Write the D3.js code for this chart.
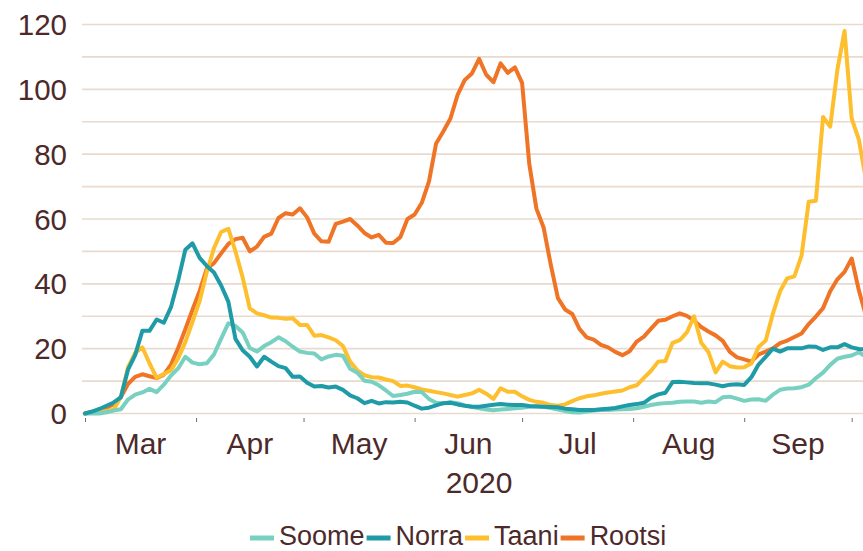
<!DOCTYPE html>
<html>
<head>
<meta charset="utf-8">
<script src="https://cdn.jsdelivr.net/npm/d3@7"></script>
<style>
  body { margin: 0; background: #fff; }
  svg { display: block; font-family: "Liberation Sans", Arial, sans-serif; }
</style>
</head>
<body>
<div id="chart"></div>
<script>
// values, one point every second day from 1 Mar 2020
const startDate = new Date(2020, 2, 1);
const dayStep = 2;

const soome = [0,0,0,0.4,0.9,1.3,4.3,5.8,6.5,7.6,
  6.6,8.9,11.7,13.9,17.5,15.7,15.2,15.5,18.2,23.1,
  27.8,27,25,20.2,19.1,20.8,22,23.5,22.3,20.6,
  19.1,18.7,18.5,16.7,17.6,18.1,17.8,13.8,12.6,10.1,
  9.8,8.7,7.1,5.4,5.7,6.1,6.7,6.6,4.5,3.3,
  3.1,3.5,3.2,2.5,2.1,1.6,1.2,1,1.2,1.4,
  1.6,1.8,2.1,2.1,2.1,1.7,1.2,0.8,0.4,0.3,
  0.6,0.9,1.1,1.1,1.2,1.3,1.4,1.6,2.1,2.6,
  3,3.2,3.3,3.6,3.7,3.7,3.3,3.7,3.5,5,
  5.2,4.6,3.9,4.3,4.4,3.9,5.8,7.3,7.7,7.8,
  8.1,8.9,10.9,12.6,15,16.9,17.5,17.9,18.9,17.5];

const norra = [0,0.6,1.4,2.4,3.4,5,13.5,18,25.5,25.5,
  29,28,32.8,41,50.5,52.5,48,45.5,43.5,39.5,
  34.5,23,19.5,17.5,14.5,17.5,16,14.6,14,11.3,
  11.4,9.5,8.3,8.5,8,8.3,7.3,5.6,4.7,3.2,
  3.9,3.1,3.5,3.4,3.6,3.4,2.4,1.5,1.8,2.5,
  3.2,3.3,2.8,2.4,2.1,2.1,2.4,2.7,2.9,2.7,
  2.6,2.6,2.3,2.2,2.1,2,1.9,1.5,1.3,1.1,
  1.1,1.1,1.3,1.5,1.7,2.2,2.6,2.9,3.3,4.9,
  5.9,6.4,9.7,9.8,9.6,9.4,9.3,9.3,8.9,8.4,
  8.9,9,8.8,11.2,15.1,17.5,20,19.1,20.1,20.1,
  20.1,20.7,20.6,19.6,20.4,20.4,21.4,20.4,19.9,19.7];

const taani = [0,0.3,0.6,0.8,1.2,5,14.2,18.7,20.4,15.5,
  11,12.2,13.3,17,22,28.3,34.7,43.7,51,56,
  57,50,42,32.4,30.9,30.3,29.6,29.5,29.2,29.4,
  27.3,27.3,24,24.2,23.5,22.6,20.8,16,13.3,11.8,
  11.2,11.1,10.5,10,8.5,8.6,8.1,7.4,7,6.6,
  6.2,5.7,5.2,5.7,6.2,7.3,6.1,4.5,7.8,6.7,
  6.7,5.3,4.2,3.6,3.3,2.6,2.4,2.8,3.8,4.7,
  5.3,5.6,6.1,6.5,6.8,7.1,8.1,8.7,11,13.2,
  16,16.2,21.8,22.6,25,30,21.8,19,12.7,16,
  14.6,14.2,14.3,15.4,20.5,22.5,30.8,37.7,41.7,42.3,
  48.7,65.3,65.6,91.5,88.5,106,118,91,84.5,72];

const rootsi = [0,0.5,1.1,1.7,2.9,5,9.1,11.3,12.1,11.5,
  10.9,12,15.1,20.2,26,32,37.8,44.7,46.4,49.4,
  52.3,53.8,54.2,50,51.5,54.5,55.5,60.3,61.8,61.4,
  63.3,60.5,55.5,53.1,53,58.5,59.2,60,58,55.7,
  54.3,55.1,52.7,52.6,54.4,60,61.4,65,71.5,83.3,
  87,91,98.3,102.9,104.9,109.4,104.5,102.2,108,105.1,
  106.8,102,77,63.2,57.4,45.9,35.6,32.1,30.7,26.1,
  23.5,22.8,21.2,20.4,19,18,19.2,22.2,23.7,26.2,
  28.6,28.9,30,30.9,30.1,28.7,26.7,25.3,24.1,22.4,
  19,17.3,16.7,16,18.2,19.1,20.1,21.7,22.5,23.6,
  24.7,27.6,29.9,32.5,37.7,41.4,43.7,47.8,38,30];

const seriesNames = ["Soome", "Norra", "Taani", "Rootsi"];
const seriesColors = ["#78d0c1", "#1f9ba7", "#fdbf2e", "#ef7425"];
const yTickValues = [0, 20, 40, 60, 80, 100, 120];
const yearLabel = "2020";

const dates = d3.range(soome.length).map(i => d3.timeDay.offset(startDate, i * dayStep));
const allSeries = [soome, norra, taani, rootsi];

const width = 863, height = 551;
const textColor = "#4d2a2a";
const gridColor = "#e9dacd";

const svg = d3.select("#chart").append("svg")
  .attr("width", width)
  .attr("height", height);

const x = d3.scaleTime()
  .domain([new Date(2020, 2, 1), new Date(2020, 9, 1)])
  .range([85, 851.7]);
const y = d3.scaleLinear()
  .domain([0, 120])
  .range([413.5, 24.5]);

// horizontal grid, every 10
svg.append("g")
  .selectAll("line")
  .data(d3.range(0, 121, 10))
  .join("line")
    .attr("x1", 82)
    .attr("x2", width)
    .attr("y1", d => y(d))
    .attr("y2", d => y(d))
    .attr("stroke", gridColor)
    .attr("stroke-width", 1.6);

// y labels
svg.append("g")
  .selectAll("text")
  .data(yTickValues)
  .join("text")
    .attr("x", 67)
    .attr("y", d => y(d) + 10.6)
    .attr("text-anchor", "end")
    .attr("font-size", 29.5)
    .attr("fill", textColor)
    .text(d => d);

// month ticks
const xAxis = svg.append("g")
  .attr("transform", "translate(0,418)")
  .call(d3.axisBottom(x).ticks(d3.timeMonth.every(1)).tickSize(4).tickFormat(""));
xAxis.select(".domain").remove();
xAxis.selectAll(".tick line").attr("stroke", "#7d6a6a").attr("stroke-width", 1);

// month labels centred in each month
const months = d3.timeMonth.range(new Date(2020, 2, 1), new Date(2020, 9, 1));
svg.append("g")
  .selectAll("text")
  .data(months)
  .join("text")
    .attr("x", d => (x(d) + x(d3.timeMonth.offset(d, 1))) / 2)
    .attr("y", 454)
    .attr("text-anchor", "middle")
    .attr("font-size", 30)
    .attr("fill", textColor)
    .text(d3.timeFormat("%b"));

svg.append("text")
  .attr("x", 479)
  .attr("y", 493)
  .attr("text-anchor", "middle")
  .attr("font-size", 30)
  .attr("fill", textColor)
  .text(yearLabel);

// lines, Rootsi at the bottom and Norra on top
const line = d3.line()
  .x((d, i) => x(dates[i]))
  .y(d => y(d));

const order = [3, 2, 0, 1];
svg.append("g")
  .selectAll("path")
  .data(order)
  .join("path")
    .attr("d", k => line(allSeries[k]))
    .attr("fill", "none")
    .attr("stroke", k => seriesColors[k])
    .attr("stroke-width", 4)
    .attr("stroke-linejoin", "round")
    .attr("stroke-linecap", "round");

// legend
const legend = svg.append("g").attr("transform", "translate(250,0)");
let lx = 0;
seriesNames.forEach((name, k) => {
  legend.append("line")
    .attr("x1", lx).attr("x2", lx + 24)
    .attr("y1", 538).attr("y2", 538)
    .attr("stroke", seriesColors[k])
    .attr("stroke-width", 5);
  const t = legend.append("text")
    .attr("x", lx + 29)
    .attr("y", 545)
    .attr("font-size", 27)
    .attr("fill", textColor)
    .text(name);
  lx += 29 + t.node().getComputedTextLength() + 2;
});
</script>
</body>
</html>
